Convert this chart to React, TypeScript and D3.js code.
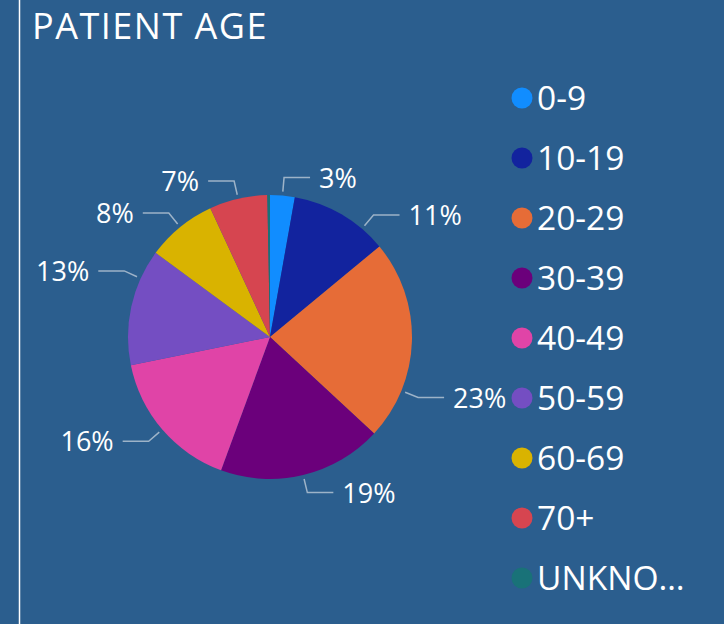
import React from 'react';
import * as d3 from 'd3';

const categories = ['0-9', '10-19', '20-29', '30-39', '40-49', '50-59', '60-69', '70+', 'UNKNOWN'];
const values = [2.8, 11.2, 22.9, 18.7, 16.2, 13.3, 8.0, 6.6, 0.3];
const colors = ['#118DFF', '#12239E', '#E66C37', '#6B007B', '#E044A7', '#744EC2', '#D9B300', '#D64550', '#197278'];
const legendLabels = ['0-9', '10-19', '20-29', '30-39', '40-49', '50-59', '60-69', '70+', 'UNKNO…'];
// fraction along each slice where its label leader starts (layout setting)
const labelAnchor = [0.5, 0.75, 0.75, 0.5, 0.5, 0.75, 0.5, 0.5, 0.5];

const W = 724;
const H = 624;
const BG = '#2B5E8E';
const FONT = "'Open Sans', 'Noto Sans', sans-serif";

export default function App() {
  const cx = 270;
  const cy = 337;
  const r = 142;
  const total = d3.sum(values);
  const data = categories.map((c, i) => ({ c, v: values[i], i }));
  const pie = d3.pie<any>().sort(null).value((d) => d.v);
  const arcs = pie(data);
  const arcGen = d3.arc<any>().innerRadius(0).outerRadius(r);

  const legendY = d3.scalePoint<string>().domain(categories).range([98, 578]);

  return (
    <svg width={W} height={H} style={{ position: 'absolute', left: 0, top: 0 }} fontFamily={FONT}>
      <rect x={0} y={0} width={W} height={H} fill={BG} />
      <line x1={19.5} x2={19.5} y1={0} y2={H} stroke="#ffffff" strokeWidth={1.5} />
      <text x={32} y={39} fill="#ffffff" fontSize={36} letterSpacing={1.5}>PATIENT AGE</text>
      <g transform={`translate(${cx},${cy})`}>
        {arcs.map((a, i) => (
          <path key={i} d={arcGen(a) as string} fill={colors[i]} />
        ))}
      </g>
      {arcs.map((a, i) => {
        const pct = Math.round((a.data.v / total) * 100);
        if (pct === 0) return null;
        const ang = a.startAngle + labelAnchor[i] * (a.endAngle - a.startAngle);
        const s = Math.sin(ang);
        const c = Math.cos(ang);
        const x0 = cx + (r + 4) * s;
        const y0 = cy - (r + 4) * c;
        const x1 = cx + 160 * s;
        const y1 = cy - 160 * c;
        const right = s >= 0;
        const x2 = x1 + (right ? 26 : -26);
        const tx = x2 + (right ? 9 : -9);
        return (
          <g key={'l' + i}>
            <polyline points={`${x0},${y0} ${x1},${y1} ${x2},${y1}`} fill="none" stroke="#9DB3C8" strokeWidth={1.5} />
            <text x={tx} y={y1} dy="0.37em" fill="#ffffff" fontSize={27} textAnchor={right ? 'start' : 'end'}>{pct}%</text>
          </g>
        );
      })}
      {categories.map((c, i) => (
        <g key={'lg' + i}>
          <circle cx={522} cy={legendY(c)} r={10.5} fill={colors[i]} />
          <text x={537} y={legendY(c)} dy="0.37em" fill="#ffffff" fontSize={33.5}>{legendLabels[i]}</text>
        </g>
      ))}
    </svg>
  );
}
